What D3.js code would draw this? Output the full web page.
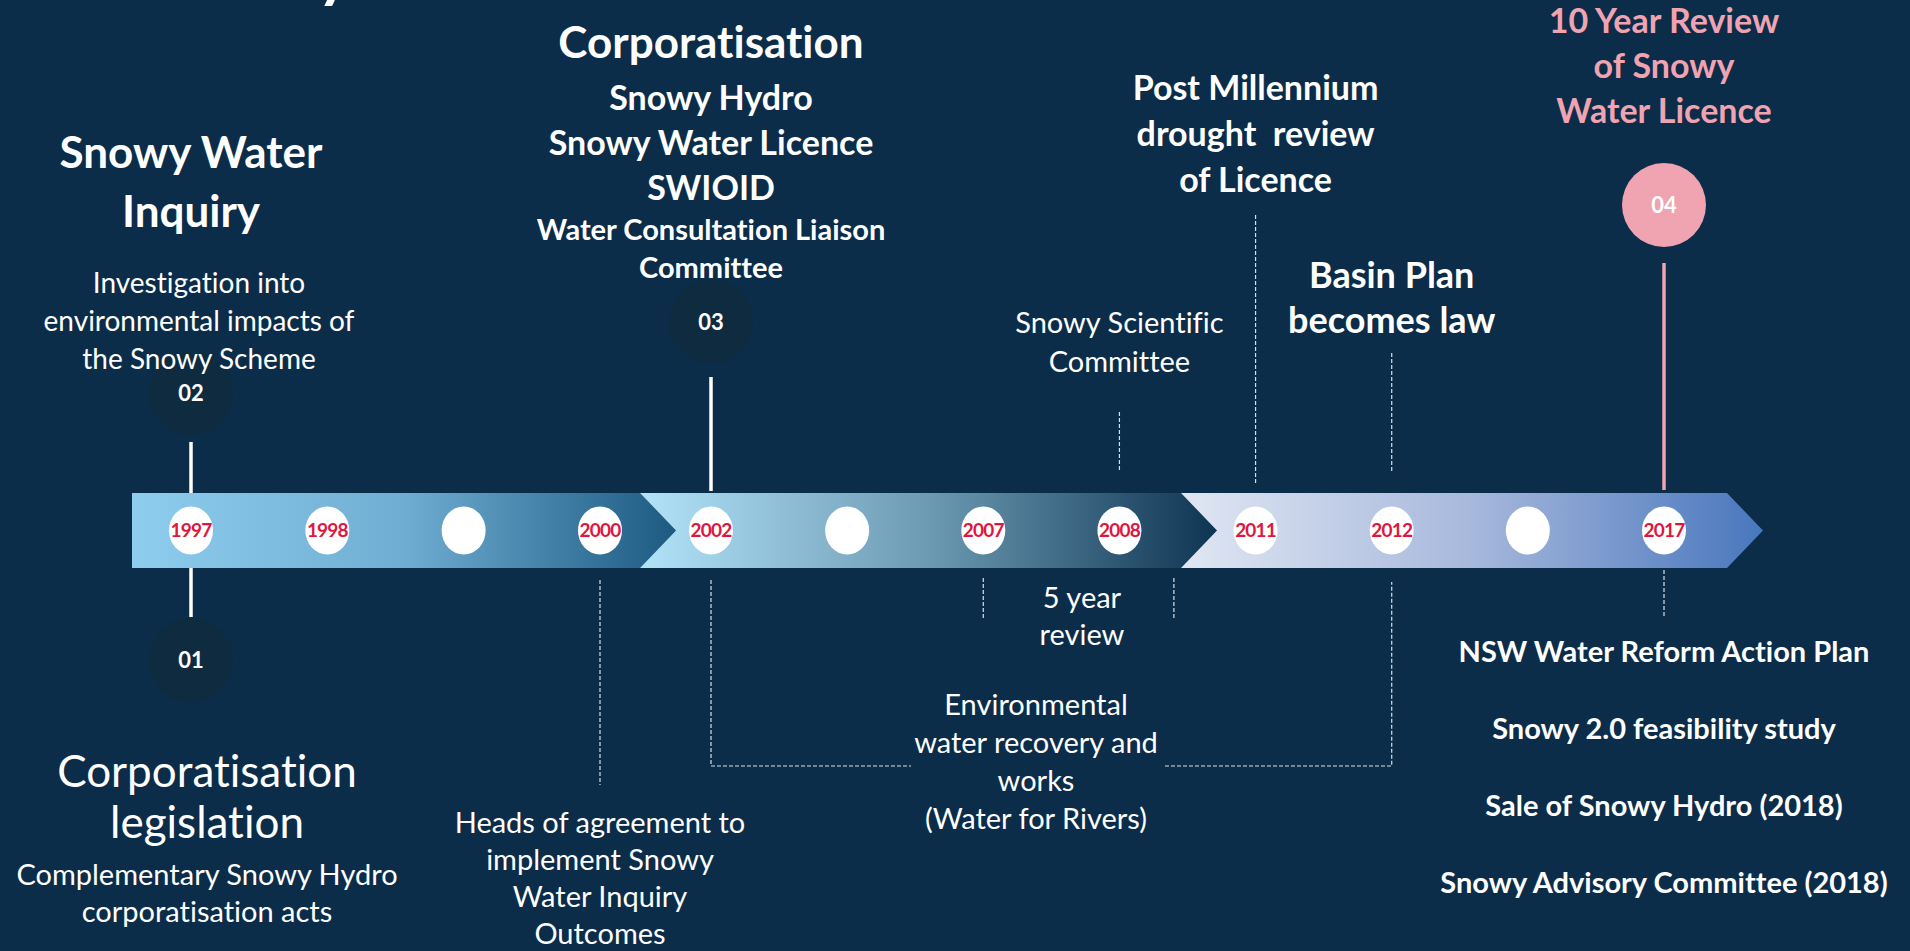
<!DOCTYPE html>
<html>
<head>
<meta charset="utf-8">
<script src="https://cdn.jsdelivr.net/npm/d3@7"></script>
<style>
  html, body { margin: 0; padding: 0; background: #0b2d4a; overflow: hidden; }
  text { font-family: Lato, "Open Sans", sans-serif; font-variant-ligatures: none; white-space: pre; }
</style>
</head>
<body>
<svg id="chart"></svg>
<script>
const width = 1910;
const height = 951;

// slots along the arrow, blank ones carry no year
const yearLabels = ['1997', '1998', '', '2000', '2002', '', '2007', '2008', '2011', '2012', '', '2017'];

// numbered milestones and the slot they hang off
const milestoneNums = ['01', '02', '03', '04'];
const milestoneSlots = [0, 0, 4, 11];

// text blocks
const inquiryTitle = ['Snowy Water', 'Inquiry'];
const inquiryNote = ['Investigation into', 'environmental impacts of', 'the Snowy Scheme'];
const corpTitle = ['Corporatisation'];
const corpItems = ['Snowy Hydro', 'Snowy Water Licence', 'SWIOID'];
const corpCommittee = ['Water Consultation Liaison', 'Committee'];
const legislationTitle = ['Corporatisation', 'legislation'];
const legislationNote = ['Complementary Snowy Hydro', 'corporatisation acts'];
const headsNote = ['Heads of agreement to', 'implement Snowy', 'Water Inquiry', 'Outcomes'];
const scientificNote = ['Snowy Scientific', 'Committee'];
const droughtTitle = ['Post Millennium', 'drought  review', 'of Licence'];
const basinTitle = ['Basin Plan', 'becomes law'];
const tenYearTitle = ['10 Year Review', 'of Snowy', 'Water Licence'];
const fiveYearNote = ['5 year', 'review'];
const recoveryNote = ['Environmental', 'water recovery and', 'works', '(Water for Rivers)'];
const outlookItems = ['NSW Water Reform Action Plan', 'Snowy 2.0 feasibility study',
    'Sale of Snowy Hydro (2018)', 'Snowy Advisory Committee (2018)'];

const svg = d3.select('#chart')
    .attr('width', width)
    .attr('height', height);

svg.append('rect')
    .attr('width', width)
    .attr('height', height)
    .attr('fill', '#0b2d4a');

// slot -> x, the 2000/2002 gap is narrower than the rest
const x = d3.scaleLinear()
    .domain([0, 3, 4, 11])
    .range([191, 600, 711, 1664]);

const bandTop = 493;
const bandBottom = 568;
const bandMid = (bandTop + bandBottom) / 2;
const tip = 36;

// cut-off title descender at the very top
svg.append('text')
    .attr('x', 334)
    .attr('y', -4)
    .attr('text-anchor', 'middle')
    .attr('font-size', 64)
    .attr('font-weight', 700)
    .attr('fill', '#fff')
    .text('y');

// arrow band, three chevron segments
const segments = [
    {x0: 132, x1: 640, notch: false, stops: ['#8ecdee', '#70add2', '#1c5a82']},
    {x0: 640, x1: 1181, notch: true, stops: ['#b2e3f9', '#6c9ab3', '#0e3452']},
    {x0: 1181, x1: 1727, notch: true, stops: ['#e0e7f3', '#a7b8dc', '#4877bd']}
];

const defs = svg.append('defs');
segments.forEach((s, i) => {
    const g = defs.append('linearGradient')
        .attr('id', 'seg' + i)
        .attr('gradientUnits', 'userSpaceOnUse')
        .attr('x1', s.x0).attr('x2', s.x1 + tip)
        .attr('y1', 0).attr('y2', 0);
    g.selectAll('stop')
        .data(s.stops)
        .enter()
        .append('stop')
            .attr('offset', (d, j) => j / (s.stops.length - 1))
            .attr('stop-color', (d) => d);
});

svg.append('g')
    .selectAll('path')
    .data(segments)
    .enter()
    .append('path')
        .attr('d', (s) => {
            const pts = [[s.x0, bandTop], [s.x1, bandTop], [s.x1 + tip, bandMid],
                [s.x1, bandBottom], [s.x0, bandBottom]];
            if (s.notch) pts.push([s.x0 + tip, bandMid]);
            return d3.line()(pts) + 'Z';
        })
        .attr('fill', (s, i) => `url(#seg${i})`);

// connectors
const solidLinks = [
    {slot: 0, y1: 442, y2: bandTop, color: '#fff'},
    {slot: 0, y1: bandBottom, y2: 617, color: '#fff'},
    {slot: 4, y1: 377, y2: bandTop - 2, color: '#fff'},
    {slot: 11, y1: 263, y2: bandTop - 3, color: '#f0a3b0'}
];

svg.append('g')
    .selectAll('line')
    .data(solidLinks)
    .enter()
    .append('line')
        .attr('x1', (d) => x(d.slot))
        .attr('x2', (d) => x(d.slot))
        .attr('y1', (d) => d.y1)
        .attr('y2', (d) => d.y2)
        .attr('stroke', (d) => d.color)
        .attr('stroke-width', 3.5);

const dashedLinks = [
    [[x(3), 580], [x(3), 785]],
    [[x(6), 578], [x(6), 618]],
    [[x(7.4), 578], [x(7.4), 618]],
    [[x(7), 412], [x(7), 471]],
    [[x(8), 215], [x(8), 485]],
    [[x(9), 353], [x(9), 472]],
    [[x(11), 570], [x(11), 617]],
    [[x(4), 580], [x(4), 766], [911, 766]],
    [[1165, 766], [x(9), 766], [x(9), 582]]
];

svg.append('g')
    .selectAll('path')
    .data(dashedLinks)
    .enter()
    .append('path')
        .attr('d', d3.line())
        .attr('fill', 'none')
        .attr('stroke', '#fff')
        .attr('stroke-opacity', 0.85)
        .attr('stroke-width', 1.2)
        .attr('stroke-dasharray', '4 2');

// numbered milestone circles
const milestoneY = [660, 393, 322, 205];
const milestoneFill = ['#0f2b3f', '#0f2b3f', '#0f2b3f', '#f0a3b0'];

const ms = svg.append('g')
    .selectAll('g')
    .data(milestoneNums)
    .enter()
    .append('g')
        .attr('transform', (d, i) => `translate(${x(milestoneSlots[i])},${milestoneY[i]})`);

ms.append('ellipse')
    .attr('rx', 42)
    .attr('ry', 42)
    .attr('fill', (d, i) => milestoneFill[i]);

ms.append('text')
    .attr('text-anchor', 'middle')
    .attr('dy', '0.35em')
    .attr('font-size', 22)
    .attr('font-weight', 700)
    .attr('fill', '#fff')
    .text((d) => d);

// year dots on the band
const dots = svg.append('g')
    .selectAll('g')
    .data(yearLabels)
    .enter()
    .append('g')
        .attr('transform', (d, i) => `translate(${x(i)},${bandMid})`);

dots.append('ellipse')
    .attr('rx', 22)
    .attr('ry', 24)
    .attr('fill', '#fff');

dots.append('text')
    .attr('text-anchor', 'middle')
    .attr('dy', '0.36em')
    .attr('font-size', 19)
    .attr('font-weight', 700)
    .attr('letter-spacing', -0.8)
    .attr('fill', '#e0163f')
    .text((d) => d);

// text blocks
function block(lines, cx, y0, step, size, weight, color) {
    svg.append('g')
        .selectAll('text')
        .data(lines)
        .enter()
        .append('text')
            .attr('x', cx)
            .attr('y', (d, i) => y0 + i * step)
            .attr('text-anchor', 'middle')
            .attr('font-size', size)
            .attr('font-weight', weight)
            .attr('fill', color)
            .text((d) => d);
}

block(inquiryTitle, x(0), 168, 59, 44, 700, '#fff');
block(inquiryNote, x(0) + 8, 293, 38, 28, 400, '#fff');
block(corpTitle, x(4), 58, 0, 44, 700, '#fff');
block(corpItems, x(4), 110, 45, 34, 700, '#fff');
block(corpCommittee, x(4), 240, 38, 29, 700, '#fff');
block(legislationTitle, x(0) + 16, 787, 51, 44, 400, '#fff');
block(legislationNote, x(0) + 16, 885, 37, 29, 400, '#fff');
block(headsNote, x(3), 833, 37, 29, 400, '#fff');
block(scientificNote, x(7), 333, 39, 29, 400, '#fff');
block(droughtTitle, x(8), 100, 46, 34, 700, '#fff');
block(basinTitle, x(9), 288, 45, 36, 700, '#fff');
block(tenYearTitle, x(11), 33, 45, 34, 700, '#f0a3b0');
block(fiveYearNote, 1082, 608, 37, 29, 400, '#fff');
block(recoveryNote, 1036, 715, 38, 29, 400, '#fff');
block(outlookItems, x(11), 662, 77, 29, 700, '#fff');
</script>
</body>
</html>
